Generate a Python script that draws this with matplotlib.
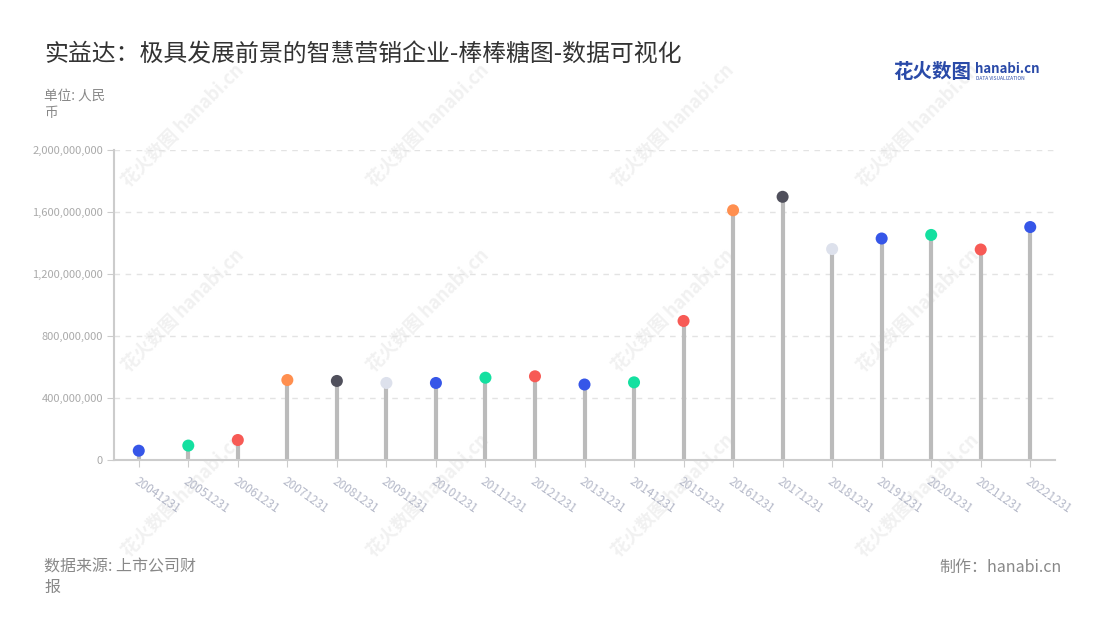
#!/usr/bin/env python3
# -*- coding: utf-8 -*-
# Lollipop chart - 实益达 营收 (hanabi style)

import numpy as np
import matplotlib
matplotlib.use('Agg')
import matplotlib.pyplot as plt
from matplotlib.ticker import FuncFormatter, MultipleLocator

plt.rcParams['font.family'] = ['Noto Sans CJK SC', 'DejaVu Sans']

# ── Data ──────────────────────────────────────────────────────────────
dates = ['20041231', '20051231', '20061231', '20071231', '20081231',
         '20091231', '20101231', '20111231', '20121231', '20131231',
         '20141231', '20151231', '20161231', '20171231', '20181231',
         '20191231', '20201231', '20211231', '20221231']
values = [60e6, 93e6, 129e6, 516e6, 510e6,
          497e6, 497e6, 531e6, 540e6, 487e6,
          501e6, 897e6, 1611e6, 1698e6, 1361e6,
          1429e6, 1452e6, 1358e6, 1503e6]

BLUE, GREEN, RED = '#3656e8', '#14e0a0', '#f75a55'
ORANGE, DARK, LIGHT = '#ff8f4f', '#50505c', '#dde1ec'
dot_colors = [BLUE, GREEN, RED, ORANGE, DARK, LIGHT, BLUE, GREEN, RED,
              BLUE, GREEN, RED, ORANGE, DARK, LIGHT, BLUE, GREEN, RED, BLUE]

title = '实益达：极具发展前景的智慧营销企业-棒棒糖图-数据可视化'

# ── Figure ────────────────────────────────────────────────────────────
fig = plt.figure(figsize=(11, 6.2), dpi=100)
ax = fig.add_axes([114 / 1100, 160 / 620, 941 / 1100, 310 / 620])
ax.set_zorder(2)

# watermarks (behind the axes)
for wx in [183, 428, 673, 918]:
    for wy in [125, 310, 495]:
        fig.text(wx / 1100, 1 - wy / 620, '花火数图 hanabi.cn', rotation=45,
                 fontsize=13, color='#f1f1f1', ha='center', va='center',
                 fontweight='bold', zorder=0)

x = np.arange(len(dates))
ax.vlines(x, 0, values, color='#bbbbbb', linewidth=3, zorder=2)
ax.scatter(x, values, s=75, c=dot_colors, zorder=3, linewidths=0)

ax.set_xlim(-0.5, len(dates) - 0.5)
ax.set_ylim(0, 2e9)
ax.yaxis.set_major_locator(MultipleLocator(4e8))
ax.yaxis.set_major_formatter(FuncFormatter(lambda v, p: f'{int(v):,}'))
ax.grid(axis='y', linestyle=(0, (4, 4)), color='#e3e3e3', linewidth=1)
ax.set_axisbelow(True)
ax.patch.set_alpha(0)

for s in ['top', 'right']:
    ax.spines[s].set_visible(False)
for s in ['left', 'bottom']:
    ax.spines[s].set_color('#cccccc')
    ax.spines[s].set_linewidth(1.5)

ax.set_xticks(x)
ax.set_xticklabels(dates, rotation=-35, ha='left', va='top',
                   rotation_mode='anchor', fontsize=8.5, color='#b4b8c8')
ax.tick_params(axis='x', length=5, color='#cccccc', pad=6)
ax.tick_params(axis='y', length=5, color='#cccccc', labelsize=8,
               labelcolor='#aaaaaa', pad=3)

# ── Texts ─────────────────────────────────────────────────────────────
fig.text(44 / 1100, 1 - 55 / 620, title, fontsize=17.2, color='#333333',
         va='center', ha='left')
fig.text(44 / 1100, 1 - 96 / 620, '单位: 人民', fontsize=9.8,
         color='#888888', va='center')
fig.text(44 / 1100, 1 - 113 / 620, '币', fontsize=9.8,
         color='#888888', va='center')

fig.text(44 / 1100, 1 - 567 / 620, '数据来源: 上市公司财', fontsize=11.5,
         color='#888888', va='center')
fig.text(44 / 1100, 1 - 587 / 620, '报', fontsize=11.5,
         color='#888888', va='center')
fig.text(1062 / 1100, 1 - 567 / 620, '制作：hanabi.cn', fontsize=11.5,
         color='#888888', va='center', ha='right')

# logo
fig.text(893 / 1100, 1 - 72 / 620, '花火数图', fontsize=14, color='#2a4aa8',
         fontweight='bold', va='center', ha='left')
fig.text(975 / 1100, 1 - 69 / 620, 'hanabi.cn', fontsize=9.5,
         color='#2a4aa8', fontweight='bold', va='center', ha='left')
fig.text(976 / 1100, 1 - 79 / 620, 'DATA VISUALIZATION', fontsize=3.5,
         color='#2a4aa8', va='center', ha='left')

fig.savefig('out.png', dpi=100)
